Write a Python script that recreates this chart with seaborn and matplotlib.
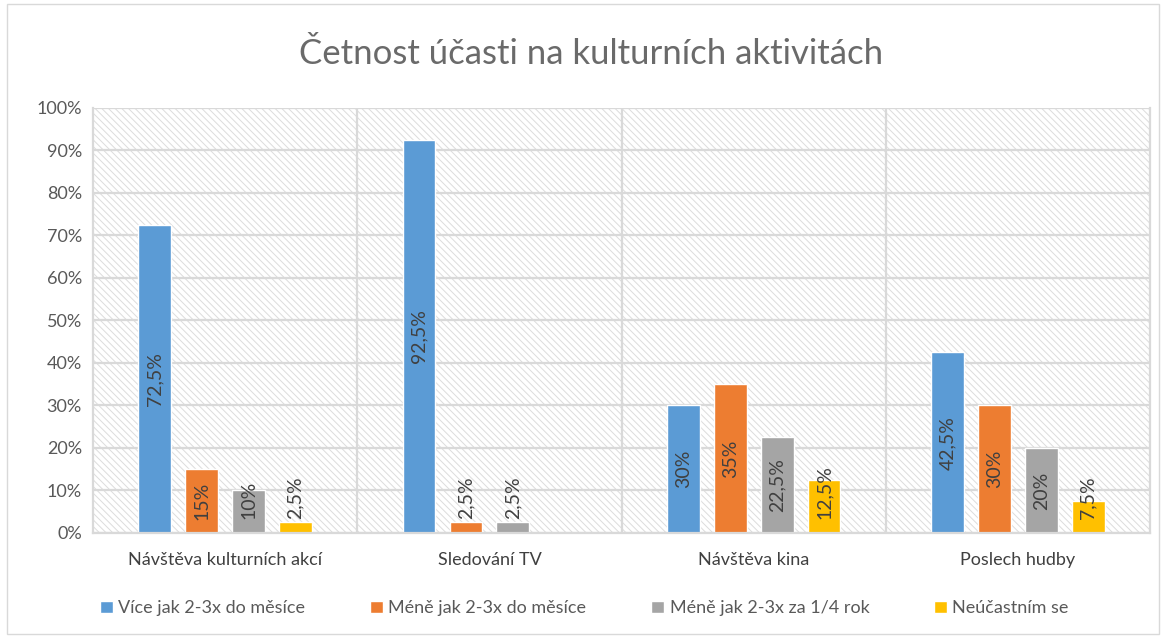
import numpy as np
import pandas as pd
import matplotlib
matplotlib.use('Agg')
import matplotlib.pyplot as plt
import seaborn as sns
from matplotlib.patches import Rectangle

# data (percent)
aktivity = ['Návštěva kulturních akcí', 'Sledování TV', 'Návštěva kina', 'Poslech hudby']
cetnosti = ['Více jak 2-3x do měsíce', 'Méně jak 2-3x do měsíce',
            'Méně jak 2-3x za 1/4 rok', 'Neúčastním se']
vice_mesic = [72.5, 92.5, 30, 42.5]
mene_mesic = [15, 2.5, 35, 30]
mene_ctvrtrok = [10, 2.5, 22.5, 20]
neucastnim = [2.5, np.nan, 12.5, 7.5]
barvy = ['#5B9BD5', '#ED7D31', '#A5A5A5', '#FFC000']

rows = []
for nazev, hodnoty in zip(cetnosti, [vice_mesic, mene_mesic, mene_ctvrtrok, neucastnim]):
    for akt, v in zip(aktivity, hodnoty):
        rows.append({'aktivita': akt, 'cetnost': nazev, 'podil': v})
df = pd.DataFrame(rows)

sns.set_theme(style='white')
plt.rcParams['font.family'] = ['Lato', 'DejaVu Sans']
plt.rcParams['hatch.color'] = '#dcdcdc'
plt.rcParams['hatch.linewidth'] = 0.7

fig = plt.figure(figsize=(11.64, 6.37), dpi=100)
ax = fig.add_axes([0.0799, 0.1633, 0.9081, 0.6672])

# hatched background of the plot area
ax.add_patch(Rectangle((0, 0), 1, 1, transform=ax.transAxes, facecolor='white',
                       edgecolor='#dcdcdc', hatch='\\\\\\\\\\', lw=0, zorder=0.1))

sns.barplot(data=df, x='aktivita', y='podil', hue='cetnost', palette=barvy,
            saturation=1, width=0.71, gap=0.3, ax=ax, zorder=2, legend=True)

ax.set_ylim(0, 100)
ax.set_xlim(-0.5, len(aktivity) - 0.5)
ax.set_yticks(range(0, 101, 10))
ax.set_yticklabels([f'{t}%' for t in range(0, 101, 10)])
ax.yaxis.grid(True, color='#d9d9d9', lw=1.6, zorder=0.5)
for x in np.arange(0.5, len(aktivity) - 0.5, 1):
    ax.axvline(x, color='#d9d9d9', lw=1.6, zorder=0.5)
for side in ['right', 'left', 'bottom']:
    ax.spines[side].set_color('#d9d9d9')
    ax.spines[side].set_linewidth(1.6)
ax.spines['top'].set_visible(False)
ax.tick_params(axis='y', labelsize=13, colors='#595959', length=0, pad=8)
ax.tick_params(axis='x', labelsize=13, colors='#404040', length=0, pad=14)
ax.set_xlabel('')
ax.set_ylabel('')

# value labels, rotated, centred in the bar (kept above the axis for low bars)
for cont in ax.containers:
    for bar in cont:
        h = bar.get_height()
        if np.isnan(h) or h == 0:
            continue
        txt = f'{h:g}'.replace('.', ',') + '%'
        x = bar.get_x() + bar.get_width() / 2
        if h < 14:
            ax.text(x, 3.3, txt, rotation=90, ha='center', va='bottom',
                    fontsize=14, color='#404040', zorder=3)
        else:
            ax.text(x, h / 2, txt, rotation=90, ha='center', va='center',
                    fontsize=14, color='#404040', zorder=3)

ax.legend(loc='upper center', bbox_to_anchor=(0.465, -0.12), ncol=4, frameon=False,
          fontsize=13, labelcolor='#595959', handlelength=0.7, handleheight=0.7,
          handletextpad=0.3, columnspacing=3.6)

fig.suptitle('Četnost účasti na kulturních aktivitách', y=0.94, x=0.508, fontsize=25,
             color='#6a6a6a')

# light frame round the whole chart
fig.patches.append(Rectangle((0.006, 0.004), 0.99, 0.99, transform=fig.transFigure,
                             fill=False, edgecolor='#d9d9d9', lw=1))

fig.savefig('out.png', dpi=100)
